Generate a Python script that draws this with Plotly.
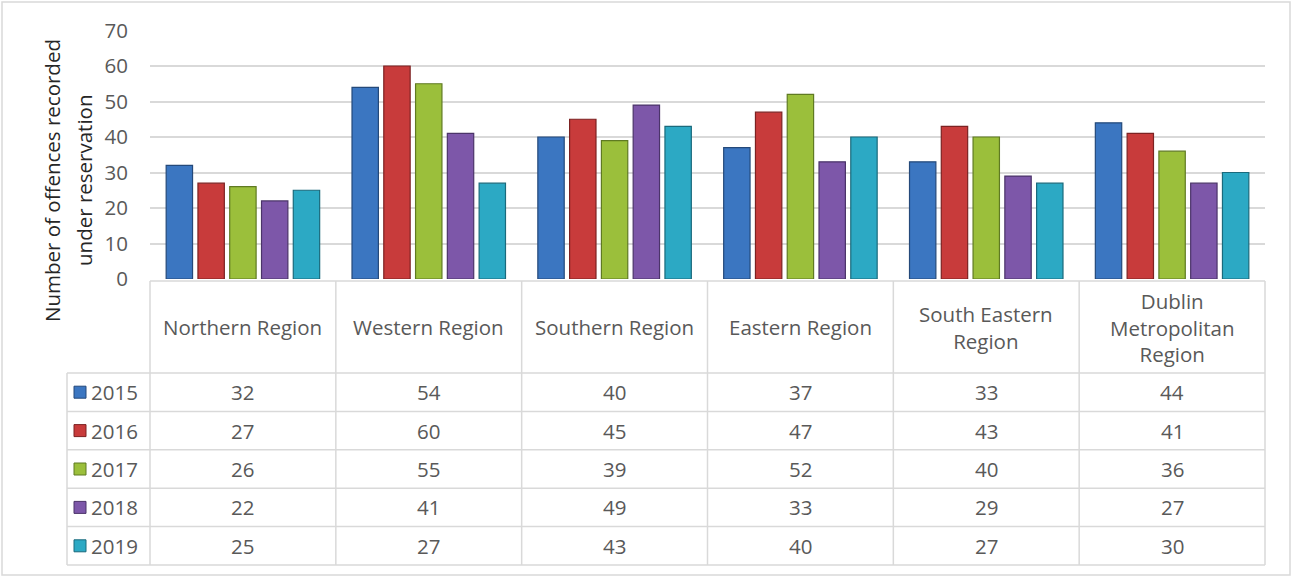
import plotly.graph_objects as go

regions = ["Northern Region", "Western Region", "Southern Region", "Eastern Region",
           "South Eastern Region", "Dublin Metropolitan Region"]
region_labels = ["Northern Region", "Western Region", "Southern Region", "Eastern Region",
                 "South Eastern<br>Region", "Dublin<br>Metropolitan<br>Region"]
years = ["2015", "2016", "2017", "2018", "2019"]
v2015 = [32, 54, 40, 37, 33, 44]
v2016 = [27, 60, 45, 47, 43, 41]
v2017 = [26, 55, 39, 52, 40, 36]
v2018 = [22, 41, 49, 33, 29, 27]
v2019 = [25, 27, 43, 40, 27, 30]
series = [v2015, v2016, v2017, v2018, v2019]
colors = ["#3b76c1", "#c83b3b", "#9bbf3b", "#7d57a9", "#2ca9c4"]
edge = ["#24497a", "#7c2222", "#5f7a22", "#4b3469", "#1a6a7c"]
y_ticks = [0, 10, 20, 30, 40, 50, 60, 70]

W, H = 1293, 577
FONT = "Open Sans"
FS = 20.5
TXT = "#595959"
GRID = "#d9d9d9"

# pixel layout
X0, X1 = 150, 1265
Y_TOP, Y_ZERO = 30.5, 279
LEG_X = 67
ROW_TOP = 281
HEAD_BOT = 373
ROW_H = 38.4

def px(x):
    return x / W

def py(y):
    return 1 - y / H

fig = go.Figure()
for yr, vals, c, e in zip(years, series, colors, edge):
    fig.add_trace(go.Bar(x=regions, y=vals, name=yr,
                         marker=dict(color=c, line=dict(color=e, width=1.2)),
                         showlegend=False))

shapes = []
annotations = []
# outer border
shapes.append(dict(type="rect", xref="paper", yref="paper", x0=px(2), x1=px(1290),
                   y0=py(575), y1=py(2), line=dict(color=GRID, width=1.5)))

# table lines
lw = 1.5
col_w = (X1 - X0) / len(regions)
row_lines = [HEAD_BOT + i * ROW_H for i in range(len(years) + 1)]
table_bot = row_lines[-1]
shapes.append(dict(type="line", xref="paper", yref="paper", x0=px(X0), x1=px(X1),
                   y0=py(ROW_TOP), y1=py(ROW_TOP), line=dict(color=GRID, width=lw)))
for yl in row_lines:
    shapes.append(dict(type="line", xref="paper", yref="paper", x0=px(LEG_X), x1=px(X1),
                       y0=py(yl), y1=py(yl), line=dict(color=GRID, width=lw)))
for i in range(len(regions) + 1):
    xx = X0 + i * col_w
    shapes.append(dict(type="line", xref="paper", yref="paper", x0=px(xx), x1=px(xx),
                       y0=py(ROW_TOP), y1=py(table_bot), line=dict(color=GRID, width=lw)))
shapes.append(dict(type="line", xref="paper", yref="paper", x0=px(LEG_X), x1=px(LEG_X),
                   y0=py(HEAD_BOT), y1=py(table_bot), line=dict(color=GRID, width=lw)))

# header labels
for i, lab in enumerate(region_labels):
    cx = X0 + (i + 0.5) * col_w
    annotations.append(dict(x=px(cx), y=py((ROW_TOP + HEAD_BOT) / 2), xref="paper", yref="paper",
                            text=lab, showarrow=False, font=dict(family=FONT, size=FS, color=TXT),
                            xanchor="center", yanchor="middle"))
# rows
for r, (yr, vals, c, e) in enumerate(zip(years, series, colors, edge)):
    cy = HEAD_BOT + (r + 0.5) * ROW_H
    shapes.append(dict(type="rect", xref="paper", yref="paper", x0=px(74), x1=px(86),
                       y0=py(cy + 6), y1=py(cy - 6), fillcolor=c, line=dict(color=e, width=1)))
    annotations.append(dict(x=px(89), y=py(cy), xref="paper", yref="paper", text=yr,
                            showarrow=False, font=dict(family=FONT, size=FS, color=TXT),
                            xanchor="left", yanchor="middle"))
    for i, v in enumerate(vals):
        cx = X0 + (i + 0.5) * col_w
        annotations.append(dict(x=px(cx), y=py(cy), xref="paper", yref="paper", text=str(v),
                                showarrow=False, font=dict(family=FONT, size=FS, color=TXT),
                                xanchor="center", yanchor="middle"))

# y-axis title (two lines)
title_lines = ["Number of offences recorded", "under reservation"]
for tx, xc in zip(title_lines, [52, 84]):
    annotations.append(dict(x=px(xc), y=py(181), xref="paper", yref="paper",
                            text=tx, textangle=-90,
                            showarrow=False, font=dict(family=FONT, size=FS, color="#262626"),
                            xanchor="center", yanchor="middle"))

fig.update_layout(
    width=W, height=H, autosize=False,
    margin=dict(l=0, r=0, t=0, b=0, pad=0),
    paper_bgcolor="white", plot_bgcolor="white",
    barmode="group", bargap=0.145, bargroupgap=0.17,
    shapes=shapes, annotations=annotations,
    xaxis=dict(domain=[px(X0), px(X1)], showticklabels=False, showgrid=False,
               showline=False, ticks="", zeroline=False, automargin=False),
    yaxis=dict(domain=[py(Y_ZERO), py(Y_TOP)], range=[0, 70], tickvals=y_ticks,
               showgrid=True, gridcolor=GRID, gridwidth=1.5, zeroline=False,
               showline=False, ticks="", ticklabelstandoff=21, automargin=False,
               tickfont=dict(family=FONT, size=FS, color=TXT)),
)

fig.write_html("out.html")
